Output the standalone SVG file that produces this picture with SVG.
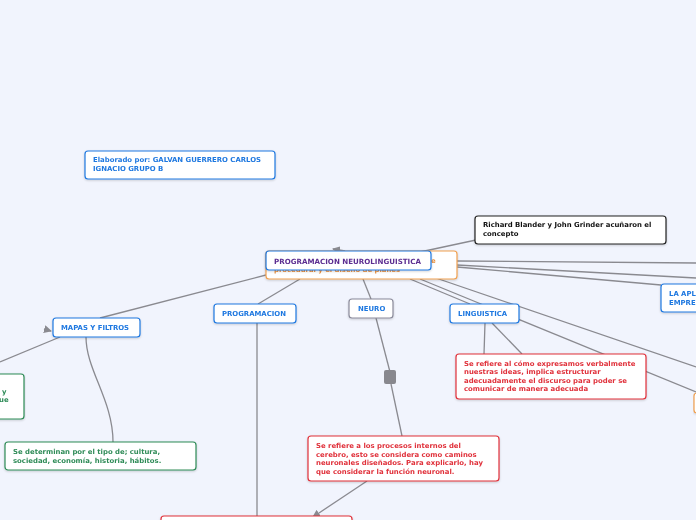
<svg xmlns="http://www.w3.org/2000/svg" width="696" height="520" viewBox="0 0 696 520">
<defs>
<style>
.n{fill:#fff;stroke-width:1.2;}
.b{stroke:#1f78e0;}
.r{stroke:#e0303a;}
.g{stroke:#2e8b57;}
.k{stroke:#222;}
.o{stroke:#f0a050;}
.gy{stroke:#8a8a9a;}
text{font-family:"DejaVu Sans","Verdana",sans-serif;font-weight:bold;font-size:6.9px;}
.tb{fill:#1f78e0;}
.tr{fill:#e0303a;}
.tg{fill:#2e8b57;}
.tk{fill:#111;}
.tp{fill:#5c2d91;font-size:7.1px;}
.to{fill:#e89040;}
.c path,.c line{stroke:#8a8a90;stroke-width:1.3;fill:none;}
</style>
<marker id="ah" markerWidth="8" markerHeight="8" refX="7" refY="4" orient="auto" markerUnits="userSpaceOnUse">
<path d="M0,0 L8,4 L0,8 Z" fill="#8a8a90"/>
</marker>
<filter id="sh" x="-5%" y="-20%" width="110%" height="150%"><feDropShadow dx="0" dy="1" stdDeviation="0.8" flood-color="#000" flood-opacity="0.18"/></filter>
</defs>
<rect width="696" height="520" fill="#f1f4fd"/>
<g class="c">
<line x1="420" y1="252" x2="476" y2="240"/>
<line x1="345" y1="251" x2="333" y2="249" marker-end="url(#ah)"/>
<line x1="457" y1="261" x2="696" y2="263"/>
<line x1="457" y1="265" x2="696" y2="278"/>
<line x1="457" y1="267" x2="661" y2="285"/>
<line x1="430" y1="276" x2="696" y2="367"/>
<line x1="420" y1="279" x2="696" y2="392"/>
<line x1="266" y1="275" x2="100" y2="318"/>
<line x1="60" y1="337" x2="0" y2="362"/>
<line x1="44" y1="329" x2="51" y2="331" marker-end="url(#ah)"/>
<path d="M86,337 C86,370 113,400 113,442"/>
<line x1="300" y1="279" x2="258" y2="304"/>
<line x1="257" y1="323" x2="257" y2="517"/>
<line x1="363" y1="279" x2="371" y2="299"/>
<line x1="376" y1="318" x2="390" y2="372"/>
<line x1="391" y1="384" x2="402" y2="436"/>
<line x1="410" y1="279" x2="470" y2="304"/>
<line x1="485" y1="323" x2="484" y2="354"/>
<line x1="492" y1="323" x2="522" y2="354"/>
<line x1="367" y1="481" x2="313" y2="517" marker-end="url(#ah)"/>
<rect x="384" y="370" width="12" height="14" rx="2" fill="#88888e" stroke="none"/>
</g>
<g id="elaborado" filter="url(#sh)">
<rect class="n b" x="85" y="151" width="190" height="28" rx="3"/>
<text class="tb" x="93" y="162">Elaborado por: GALVAN GUERRERO CARLOS</text>
<text class="tb" x="93" y="171">IGNACIO GRUPO B</text>
</g>
<g id="richard" filter="url(#sh)">
<rect class="n k" x="475" y="216" width="191" height="28" rx="3"/>
<text class="tk" x="483" y="227">Richard Blander y John Grinder acuñaron el</text>
<text class="tk" x="483" y="236">concepto</text>
</g>
<g id="central-back" filter="url(#sh)">
<rect class="n o" x="266" y="251" width="191" height="28" rx="3"/>
<text class="to" x="431" y="263">e</text>
<text class="to" x="274" y="272" textLength="126" lengthAdjust="spacingAndGlyphs">procedural y el diseño de planes</text>
</g>
<g id="central" filter="url(#sh)">
<rect class="n b" x="266" y="251" width="165" height="19" rx="3"/>
<text class="tp" x="274" y="263.5">PROGRAMACION NEUROLINGUISTICA</text>
</g>
<g id="la-apl" filter="url(#sh)">
<rect class="n b" x="661" y="284" width="60" height="28" rx="3"/>
<text class="tb" x="669" y="296">LA APL</text>
<text class="tb" x="669" y="305">EMPRE</text>
</g>
<g id="mapas" filter="url(#sh)">
<rect class="n b" x="53" y="318" width="87" height="19" rx="3"/>
<text class="tb" x="61" y="330">MAPAS Y FILTROS</text>
</g>
<g id="programacion" filter="url(#sh)">
<rect class="n b" x="214" y="304" width="82" height="19" rx="3"/>
<text class="tb" x="222" y="316">PROGRAMACION</text>
</g>
<g id="neuro" filter="url(#sh)">
<rect class="n gy" x="349" y="299" width="44" height="19" rx="3"/>
<text class="tb" x="358" y="311">NEURO</text>
</g>
<g id="linguistica" filter="url(#sh)">
<rect class="n b" x="450" y="304" width="69" height="19" rx="3"/>
<text class="tb" x="458" y="316">LINGUISTICA</text>
</g>
<g id="green-left" filter="url(#sh)">
<rect class="n g" x="-10" y="374" width="34" height="45" rx="3"/>
<text class="tg" x="2" y="394">y</text>
<text class="tg" x="-1" y="402">ue</text>
</g>
<g id="mapas-desc" filter="url(#sh)">
<rect class="n g" x="5" y="442" width="191" height="28" rx="3"/>
<text class="tg" x="13" y="454">Se determinan por el tipo de; cultura,</text>
<text class="tg" x="13" y="463">sociedad, economía, historia, hábitos.</text>
</g>
<g id="ling-desc" filter="url(#sh)">
<rect class="n r" x="456" y="354" width="190" height="45" rx="3"/>
<text class="tr" x="464" y="366">Se refiere al cómo expresamos verbalmente</text>
<text class="tr" x="464" y="374">nuestras ideas, implica estructurar</text>
<text class="tr" x="464" y="382.5">adecuadamente el discurso para poder se</text>
<text class="tr" x="464" y="391">comunicar de manera adecuada</text>
</g>
<g id="orange-right" filter="url(#sh)">
<rect class="n o" x="694" y="393" width="20" height="20" rx="3"/>
</g>
<g id="neuro-desc" filter="url(#sh)">
<rect class="n r" x="308" y="436" width="191" height="45" rx="3"/>
<text class="tr" x="316" y="448">Se refiere a los procesos internos del</text>
<text class="tr" x="316" y="456.5">cerebro, esto se considera como caminos</text>
<text class="tr" x="316" y="465">neuronales diseñados. Para explicarlo, hay</text>
<text class="tr" x="316" y="473.5">que considerar la función neuronal.</text>
</g>
<g id="prog-desc" filter="url(#sh)">
<rect class="n r" x="161" y="516" width="191" height="20" rx="3"/>
</g>
</svg>
